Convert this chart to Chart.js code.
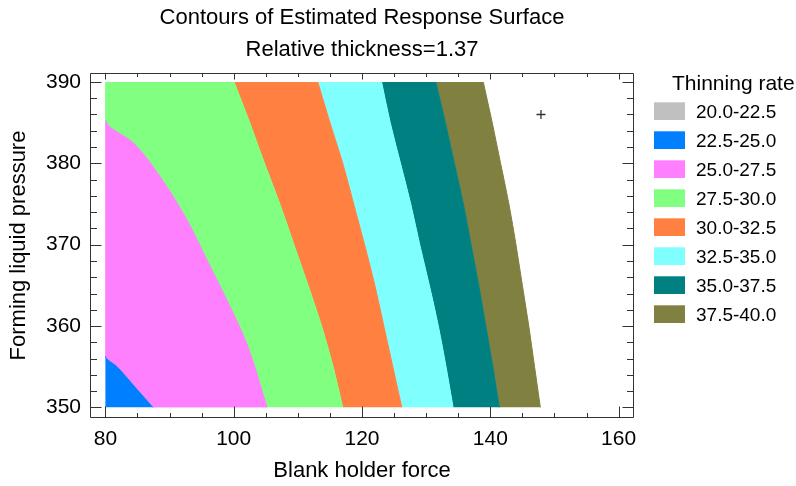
<!DOCTYPE html>
<html>
<head>
<meta charset="utf-8">
<script src="https://cdn.jsdelivr.net/npm/chart.js@4.4.1/dist/chart.umd.min.js"></script>
<style>
  html, body { margin: 0; padding: 0; background: #ffffff; }
  #wrap { width: 796px; height: 486px; }
</style>
</head>
<body>
<div id="wrap"><canvas id="c" width="796" height="486"></canvas></div>
<script>
// ---------- texts ----------
const titleText = 'Contours of Estimated Response Surface';
const subtitleText = 'Relative thickness=1.37';
const xAxisTitle = 'Blank holder force';
const yAxisTitle = 'Forming liquid pressure';
const legendTitle = 'Thinning rate';
const legendLabels = ['20.0-22.5', '22.5-25.0', '25.0-27.5', '27.5-30.0', '30.0-32.5', '32.5-35.0', '35.0-37.5', '37.5-40.0'];

// ---------- tick labels ----------
const xTickValues = [80, 100, 120, 140, 160];
const yTickValues = [350, 360, 370, 380, 390];

// ---------- contour boundaries (x = Blank holder force at each pressure y) ----------
const yLevels = [350, 355, 360, 365, 370, 375, 380, 385, 390];

const edgeLeftY = [350, 390];
const edgeLeftX = [80, 80];

const contour25Y = [350, 352.5, 355, 356.3, 390];
const contour25X = [87.4, 84.6, 81.8, 80, 80];

const contour275Y = [350, 357.9, 364.05, 368.15, 373.06, 378.38, 382.48, 385.3, 390];
const contour275X = [105.2, 102.0, 98.4, 95.8, 92.7, 88.5, 84.4, 80, 80];

const contour30X  = [117.0, 115.5, 113.7, 111.6, 109.4, 107.2, 104.8, 102.5, 100.05];
const contour325X = [126.2, 124.8, 123.4, 122.0, 120.4, 118.7, 117.0, 115.0, 113.1];
const contour35X  = [134.2, 133.1, 131.9, 130.5, 129.0, 127.6, 126.0, 124.4, 123.05];
const contour375X = [141.4, 140.4, 139.3, 138.2, 137.0, 135.8, 134.4, 133.0, 131.5];
const contour40X  = [147.8, 146.9, 146.0, 145.0, 144.0, 142.9, 141.6, 140.3, 138.9];

// marker
const markerX = [147.9];
const markerY = [386.0];

// ---------- colours ----------
const bandColors = ['#C0C0C0', '#0080FF', '#FF80FF', '#80FF80', '#FF8040', '#80FFFF', '#008080', '#808040'];

const FONT = "'Liberation Sans', Arial, sans-serif";

function pts(xs, ys) { return xs.map((x, i) => ({ x: x, y: ys[i] })); }

const boundaries = [
  pts(edgeLeftX, edgeLeftY),
  pts(contour25X, contour25Y),
  pts(contour275X, contour275Y),
  pts(contour30X, yLevels),
  pts(contour325X, yLevels),
  pts(contour35X, yLevels),
  pts(contour375X, yLevels),
  pts(contour40X, yLevels)
];

const datasets = boundaries.map((data, i) => {
  const col = i === 0 ? 'rgba(0,0,0,0)' : bandColors[i];
  return {
    type: 'line',
    data: data,
    fill: i === 0 ? false : '-1',
    backgroundColor: col,
    borderColor: col,
    borderWidth: i === 0 ? 0 : 1,
    pointRadius: 0,
    cubicInterpolationMode: 'monotone',
    segment: {
      borderColor: ctx => (ctx.p0.parsed.x <= 80 && ctx.p1.parsed.x <= 80) ? 'rgba(0,0,0,0)' : undefined
    }
  };
});

datasets.push({
  type: 'scatter',
  data: pts(markerX, markerY),
  pointStyle: 'cross',
  pointRadius: 4.5,
  borderColor: '#333333',
  borderWidth: 1.3,
  showLine: false,
  fill: false,
  order: -1
});

// frame + inward ticks on all four sides
const frameTicks = {
  id: 'frameTicks',
  afterDatasetsDraw(chart) {
    const { ctx, chartArea: a, scales: { x, y } } = chart;
    const L = Math.round(a.left) + 0.5, R = Math.round(a.right) - 0.5;
    const T = Math.round(a.top) + 0.5, B = Math.round(a.bottom) - 0.5;
    ctx.save();
    ctx.strokeStyle = '#333333';
    ctx.lineWidth = 1;
    ctx.beginPath();
    ctx.rect(L, T, R - L, B - T);
    ctx.stroke();
    ctx.beginPath();
    for (let v = 80; v <= 160; v += 5) {
      const major = xTickValues.includes(v);
      const px = Math.round(x.getPixelForValue(v)) + 0.5;
      ctx.moveTo(px, B); ctx.lineTo(px, B - (major ? 11 : 4.5));
      ctx.moveTo(px, T); ctx.lineTo(px, T + (major ? 6 : 3.5));
    }
    for (let v = 350; v <= 390; v += 2) {
      const major = yTickValues.includes(v);
      const py = Math.round(y.getPixelForValue(v)) + 0.5;
      ctx.moveTo(L, py); ctx.lineTo(L + (major ? 11 : 6.5), py);
      ctx.moveTo(R, py); ctx.lineTo(R - (major ? 11 : 6.5), py);
    }
    ctx.stroke();
    ctx.restore();
  }
};

// side legend
const sideLegend = {
  id: 'sideLegend',
  afterDraw(chart) {
    const ctx = chart.ctx;
    ctx.save();
    ctx.fillStyle = '#000000';
    ctx.textAlign = 'left';
    ctx.textBaseline = 'alphabetic';
    ctx.font = '21px ' + FONT;
    ctx.fillText(legendTitle, 672, 90);
    ctx.font = '19px ' + FONT;
    ctx.textBaseline = 'middle';
    legendLabels.forEach((lab, i) => {
      const top = 102.3 + i * 29;
      ctx.fillStyle = bandColors[i];
      ctx.fillRect(654, top, 31, 17.7);
      ctx.fillStyle = '#000000';
      ctx.fillText(lab, 696, top + 10.2);
    });
    ctx.restore();
  }
};

new Chart(document.getElementById('c'), {
  type: 'line',
  data: { datasets: datasets },
  plugins: [frameTicks, sideLegend],
  options: {
    responsive: false,
    animation: false,
    indexAxis: 'y',
    events: [],
    layout: { padding: { top: 0, left: 0, right: 162, bottom: 0 } },
    plugins: {
      legend: { display: false },
      tooltip: { enabled: false },
      title: {
        display: true, text: titleText, fullSize: false, color: '#000000',
        font: { family: FONT, size: 22, weight: 'normal' },
        padding: { top: 4.8, bottom: 0 }
      },
      subtitle: {
        display: true, text: subtitleText, fullSize: false, color: '#000000',
        font: { family: FONT, size: 22, weight: 'normal' },
        padding: { top: 5.6, bottom: 9.8 }
      }
    },
    scales: {
      x: {
        type: 'linear', position: 'bottom', min: 77.6, max: 162.4,
        grid: { display: false, drawTicks: false },
        border: { display: false },
        afterBuildTicks: s => { s.ticks = xTickValues.map(v => ({ value: v })); },
        afterFit: s => { s.height = 68; },
        ticks: { color: '#000000', font: { family: FONT, size: 21 }, padding: 9, maxRotation: 0 },
        title: { display: true, text: xAxisTitle, color: '#000000', font: { family: FONT, size: 22 }, padding: { top: 0, bottom: 2 } }
      },
      y: {
        type: 'linear', position: 'left', min: 348.7, max: 391.1,
        grid: { display: false, drawTicks: false },
        border: { display: false },
        afterBuildTicks: s => { s.ticks = yTickValues.map(v => ({ value: v })); },
        afterFit: s => { s.width = 90; },
        ticks: { color: '#000000', font: { family: FONT, size: 21 }, padding: 9 },
        title: { display: true, text: yAxisTitle, color: '#000000', font: { family: FONT, size: 22 }, padding: { top: 6, bottom: 0 } }
      }
    }
  }
});
</script>
</body>
</html>
